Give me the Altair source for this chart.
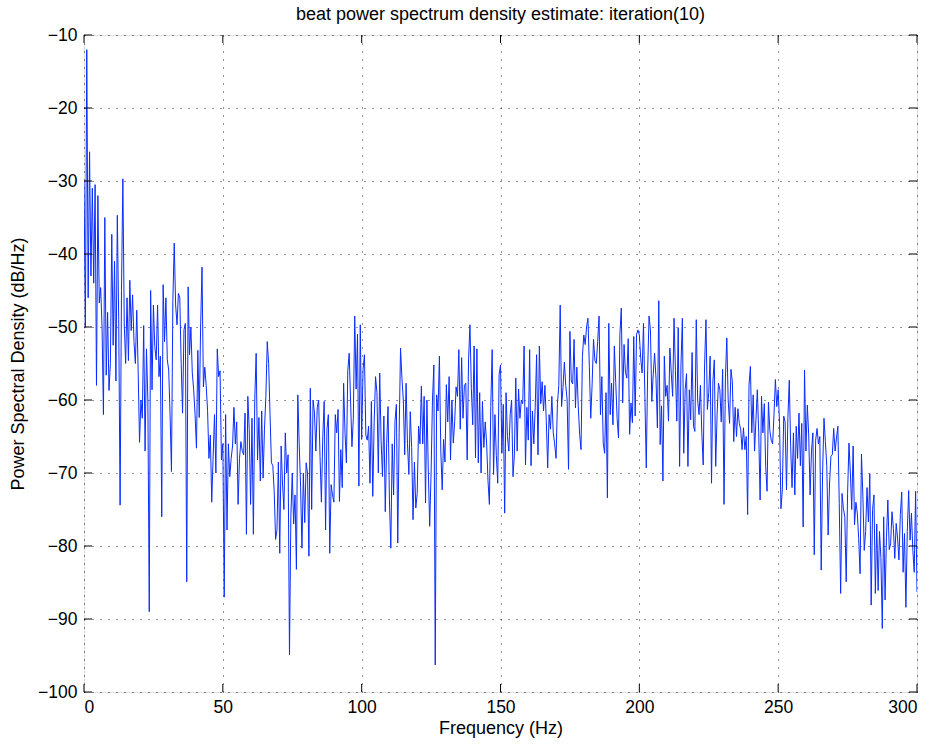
import altair as alt
import pandas as pd

# PSD values (dB/Hz), 0.5 Hz resolution, each list starts at the given frequency
psd_a = [-30, -50, -12, -46, -26, -43, -31, -44, -30.5, -58, -32, -46.7, -44.6, -50, -62, -35, -56.6, -48, -58.7, -55,
         -37.3, -52.5, -41, -57.4, -34.7, -49, -74.4, -45, -29.7, -49.6, -55, -46, -54.6, -43.6, -50.5, -45.6, -52, -55,
         -47.7, -56, -65.8, -60, -62.5, -49.8, -67, -53, -60, -89, -45, -58.6]
psd_b = [-47, -52.7, -54.5, -47, -56.8, -54, -76, -44.2, -52, -46, -54.5, -55.9, -62, -69.8, -46.5, -38.5, -47, -49.7,
         -45.4, -46, -55, -61.8, -50.4, -49.5, -84.9, -44.5, -53.8, -50, -56.3, -58.6, -62, -66.6, -53.2, -62.4, -50,
         -41.8, -58.2, -55.5, -58, -61.4, -68, -64.8, -74, -67.8, -62, -70, -53, -56.8, -56, -68.2, -66, -87]
psd_c = [-62, -77.8, -66, -70.5, -68, -66.3, -61, -66, -63, -74.3, -68, -65.7, -67, -67.5, -61.8, -78.4, -59.5, -64,
         -74.3, -62.5, -78.4, -60, -53.6, -68.2, -62.4, -71.1, -61.5, -70.7, -64, -59.5, -52, -55, -62, -68.6, -69,
         -72.5, -79.1, -77.8, -68.5, -81, -66.3, -71.5, -75, -64.5, -70, -67.5, -94.9, -76, -70, -77]
psd_d = [-73, -83.2, -59.3, -66, -71.8, -80.3, -70, -76.8, -68.6, -70, -81.4, -58.4, -75, -60, -61.8, -67, -61, -60,
         -67.7, -74, -65, -60.2, -77.8, -64, -62, -81, -71.6, -73, -74, -62, -64.5, -61.3, -73.9, -66.8, -72, -57.7,
         -64.5, -68.6, -56, -53.6, -60, -66.4, -62.5, -48.5, -58.5, -51, -71.8, -49.7, -65.4, -55.8, -53.8]
psd_e = [-64.8, -65.5, -63.6, -71.4, -60.2, -73.2, -63, -56.8, -59, -70, -56.3, -65.5, -70.5, -62.2, -75.3, -66, -60.9,
         -73.7, -80.3, -66, -73, -62.9, -60.6, -79.6, -64.5, -52.9, -57, -60, -67.5, -57.7, -66, -70.2, -61.6, -66.5,
         -76.4, -68.5, -74.8, -72.8, -63.6, -66, -58.1, -66, -59.5, -74.1, -60, -69.7, -77.3, -70, -60, -55.2, -96.3]
psd_f = [-59.3, -61.5, -54, -67, -72.3, -65.4, -68.5, -57.9, -63, -56.8, -68.2, -60, -65.9, -63, -58.2, -59.5, -53.1,
         -64, -54.2, -62.5, -58, -57.7, -68.2, -54.5, -49.7, -58.4, -63.4, -52.6, -67.9, -53, -68.6, -59, -70, -60.2,
         -66.5, -63, -65.9, -71.1, -74.3, -60.9, -53.1, -70.2, -62, -67.6, -71.4, -56.5, -55.2, -67.3, -60.6, -75.5]
psd_g = [-59, -65, -67, -62, -60, -70.5, -67.5, -57, -67, -58.5, -62.5, -60, -60.5, -52.6, -68.9, -61, -65.5, -53.1,
         -69, -61.5, -66, -61, -53.8, -67.5, -52.6, -60.5, -57.5, -61.5, -58, -63, -69.3, -62, -64, -59.5, -64.5, -66,
         -68, -60.5, -58, -47, -60.9, -58.3, -54.8, -58, -60, -69.5, -50.6, -57.4, -57.8, -51.7]
psd_h = [-61.1, -55.5, -60.8, -64.7, -66.8, -54, -51.1, -52.4, -50, -48.8, -55.5, -62.5, -57.8, -51.7, -54.6, -55, -52,
         -48.5, -62, -56.8, -65.9, -67.3, -59, -73.4, -49.5, -62, -57.7, -63.4, -52.6, -57.6, -62.5, -65.2, -51, -47.4,
         -60.4, -52.4, -56.2, -57, -51.6, -64.7, -60.4, -63.1, -51.3, -62.2, -51, -50.4, -51.1, -54.3, -56.3, -49.5]
psd_i = [-59.5, -69.3, -56, -48.5, -50.4, -60.2, -56.5, -53.6, -57, -63.8, -46.4, -66.1, -60.8, -71.1, -54, -59.5, -58,
         -62.9, -52.9, -56.3, -59.5, -48.8, -56, -62.9, -50.1, -69.1, -55.2, -48.8, -67.3, -58.6, -56.4, -69.1, -58.6,
         -62.7, -53.5, -63.6, -64.3, -49, -60, -62, -58, -64.5, -68.9, -55.2, -49, -61.3, -59, -54, -71.4, -57.4, -54.5]
psd_j = [-69.1, -62, -57.7, -58.6, -63, -55.8, -74.3, -57, -51.5, -60, -63.2, -55.8, -57.5, -65.7, -61, -65, -61.2,
         -63.2, -64, -66.8, -63.8, -66.8, -65, -75.7, -58, -55.4, -64.5, -59.3, -67, -62.7, -58.6, -64.5, -73.7, -59.5,
         -64.5, -60.5, -69.1, -72.5, -60.3, -64.2, -65.5, -66, -62, -57.2, -60.9, -58.6, -63.2, -74.9, -72.3, -62.2]
psd_k = [-63, -72.3, -62.5, -57.3, -66.4, -72, -64.5, -73, -63.6, -68, -61.8, -69, -63.2, -77.4, -55.9, -67, -60.7,
         -64.8, -73, -67, -64.5, -81.2, -65.5, -63.9, -66, -65, -83.3, -70, -62.5, -65.7, -69, -78.5, -71.5, -67.7,
         -67.5, -63.9, -67, -65.2, -63.6, -74.2, -86.5, -72.8, -74.9, -76, -84.9, -72.8, -65.9, -70, -75, -66.3, -77.1]
psd_l = [-74, -75.5, -79, -83.8, -67.4, -73, -80.6, -78, -72, -76.7, -70.1, -88.1, -75, -73, -86.5, -77, -86.1, -78,
         -81.6, -91.3, -76, -87.4, -78.8, -73.7, -80.5, -79.7, -75.3, -77.6, -81.7, -76.9, -78.9, -81.9, -75.7, -72.6,
         -83.6, -78.3, -88.4, -78, -72.4, -79.2, -75.5, -80.6, -83.6, -72.5, -86.3]

segment_starts = [0.0, 25.0, 51.0, 76.0, 101.5, 127.0, 152.0, 177.0, 202.0, 227.5, 252.5, 278.0]
segments = [psd_a, psd_b, psd_c, psd_d, psd_e, psd_f, psd_g, psd_h, psd_i, psd_j, psd_k, psd_l]
resolution_hz = 0.5

x_ticks = [0, 50, 100, 150, 200, 250, 300]
y_ticks = [-100, -90, -80, -70, -60, -50, -40, -30, -20, -10]

rows = []
for start, vals in zip(segment_starts, segments):
    for i, v in enumerate(vals):
        rows.append({"freq": start + resolution_hz * i, "psd": v})
df = pd.DataFrame(rows)

W, H = 833, 657
FONT = "Liberation Sans"

x_scale = alt.Scale(domain=[0, 300], nice=False, zero=False)
y_scale = alt.Scale(domain=[-100, -10], nice=False, zero=False)

grid_common = dict(grid=True, gridDash=[1, 7], gridColor="#000000", gridOpacity=0.85, gridWidth=1,
                   ticks=False, domain=False, labelFontSize=17.5, labelFont=FONT, labelColor="#000000",
                   titleFontSize=18, titleFont=FONT, titleFontWeight="normal", titleColor="#000000")

line = alt.Chart(df).mark_line(color="#0a2cff", strokeWidth=1, clip=True).encode(
    x=alt.X("freq:Q", scale=x_scale,
            axis=alt.Axis(title="Frequency (Hz)", values=x_ticks, labelPadding=6, titlePadding=4, **grid_common)),
    y=alt.Y("psd:Q", scale=y_scale,
            axis=alt.Axis(title="Power Spectral Density (dB/Hz)", values=y_ticks, labelPadding=7,
                          titlePadding=10, **grid_common)),
)

xt = pd.DataFrame({"v": x_ticks})
yt = pd.DataFrame({"v": y_ticks})

xtick_bottom = alt.Chart(xt).mark_rule(color="black", strokeWidth=1).encode(
    x=alt.X("v:Q", scale=x_scale), y=alt.value(H - 8), y2=alt.value(H))
xtick_top = alt.Chart(xt).mark_rule(color="black", strokeWidth=1).encode(
    x=alt.X("v:Q", scale=x_scale), y=alt.value(0), y2=alt.value(8))
ytick_left = alt.Chart(yt).mark_rule(color="black", strokeWidth=1).encode(
    y=alt.Y("v:Q", scale=y_scale), x=alt.value(0), x2=alt.value(8))
ytick_right = alt.Chart(yt).mark_rule(color="black", strokeWidth=1).encode(
    y=alt.Y("v:Q", scale=y_scale), x=alt.value(W - 8), x2=alt.value(W))

chart = alt.layer(line, xtick_bottom, xtick_top, ytick_left, ytick_right).properties(
    width=W, height=H,
    title=alt.TitleParams("beat power spectrum density estimate: iteration(10)", fontSize=18,
                          fontWeight="normal", font=FONT, color="#000000", anchor="middle", offset=2),
    padding={"left": 84, "top": 35, "right": 23, "bottom": 58},
    autosize=alt.AutoSizeParams(type="none"),
).configure_view(stroke="black", strokeWidth=1).configure(background="white")

chart.save("out.html", embed_options={"renderer": "svg", "actions": False})
